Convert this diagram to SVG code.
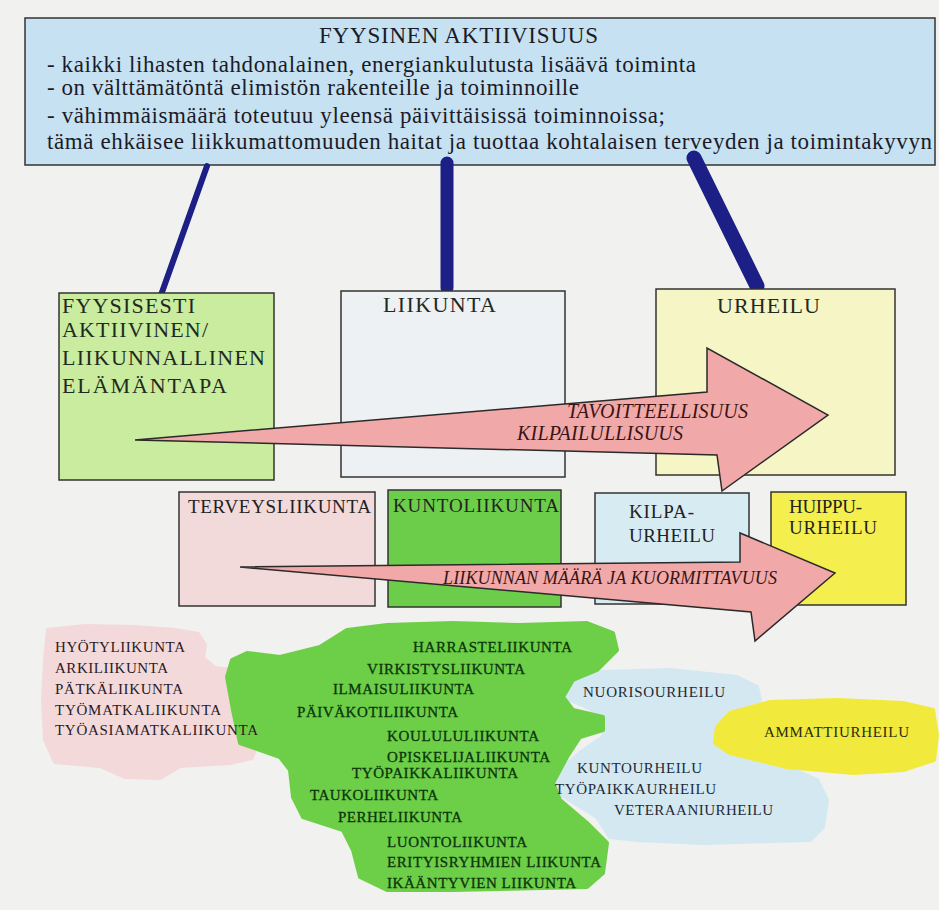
<svg xmlns="http://www.w3.org/2000/svg" width="939" height="910" viewBox="0 0 939 910">
  <style>
    .serif { font-family: "Liberation Serif", "Times New Roman", serif; }
    .box { stroke: #333333; stroke-width: 1.5; }
    .head { font-size: 23px; fill: #1b1b28; }
    .body { font-size: 23px; fill: #1b1b28; }
    .cap { font-size: 22px; fill: #1f2a1f; }
    .cap2 { font-size: 19px; fill: #222222; }
    .arrow { fill: #f0a9a8; stroke: #2a2a2a; stroke-width: 1.5; stroke-linejoin: miter; }
    .arrowtxt { font-size: 20px; font-style: italic; fill: #3a1414; }
    .arrowtxt2 { font-size: 18px; font-style: italic; fill: #3a1414; }
    .blobtxt { font-size: 15px; fill: #2a1a1e; }
    .greentxt { font-size: 15px; fill: #0b350b; stroke: #0b350b; stroke-width: 0.3; }
    .bluetxt { font-size: 15px; fill: #1c2a36; }
    .yellowtxt { font-size: 15px; fill: #2a2a10; }
    .link { stroke: #1c1f86; stroke-linecap: round; fill: none; }
  </style>

  <!-- paper -->
  <rect x="0" y="0" width="939" height="910" fill="#f1f1ef"/>

  <!-- overview box -->
  <g id="fyysinen-aktiivisuus" class="serif">
    <rect class="box" x="25" y="18" width="910" height="147" fill="#c6e1f2"/>
    <text class="head" x="319" y="43" textLength="279" lengthAdjust="spacing">FYYSINEN AKTIIVISUUS</text>
    <text class="body" x="47" y="72" textLength="649" lengthAdjust="spacing">- kaikki lihasten tahdonalainen, energiankulutusta lisäävä toiminta</text>
    <text class="body" x="47" y="95" textLength="532" lengthAdjust="spacing">- on välttämätöntä elimistön rakenteille ja toiminnoille</text>
    <text class="body" x="47" y="123" textLength="618" lengthAdjust="spacing">- vähimmäismäärä toteutuu yleensä päivittäisissä toiminnoissa;</text>
    <text class="body" x="47" y="149" textLength="885" lengthAdjust="spacing">tämä ehkäisee liikkumattomuuden haitat ja tuottaa kohtalaisen terveyden ja toimintakyvyn</text>
  </g>

  <!-- connectors from the overview box -->
  <g id="connectors">
    <line class="link" x1="207" y1="166" x2="161" y2="295" stroke-width="6"/>
    <line class="link" x1="447" y1="163" x2="447" y2="288" stroke-width="13"/>
    <line class="link" x1="694" y1="158" x2="757" y2="286" stroke-width="15"/>
  </g>

  <!-- background areas -->
  <g id="blob-arki">
    <polygon fill="#f3d9da" stroke="#f3d9da" stroke-width="4" stroke-linejoin="round"
      points="48,630 85,626 135,627 175,630 198,634 205,645 203,658 215,668 250,672 260,700 258,740 252,758 230,763 180,766 160,778 125,777 100,766 55,762 45,740 43,700 45,660"/>
  </g>
  <g id="blob-urheilu">
    <polygon fill="#d4e8f1" stroke="#d4e8f1" stroke-width="4" stroke-linejoin="round"
      points="560,687 567,677 603,672 670,670 737,677 757,687 760,700 730,710 717,727 717,747 737,757 787,767 817,780 827,800 823,827 810,840 703,843 637,840 610,837 597,817 570,800 553,790 557,773 580,753 603,737 607,720 587,707 563,697"/>
  </g>
  <g id="blob-ammatti">
    <polygon fill="#f1ea3c" stroke="#f1ea3c" stroke-width="4" stroke-linejoin="round"
      points="717,727 730,713 770,702 837,700 903,703 933,710 937,735 934,760 903,770 853,773 787,767 730,753 715,743"/>
  </g>
  <g id="blob-liikunta">
    <polygon fill="#6dcf48" stroke="#6dcf48" stroke-width="4" stroke-linejoin="round"
      points="247,653 280,657 320,647 347,630 387,625 453,623 520,625 587,623 613,633 617,650 597,670 573,680 563,697 573,710 603,717 603,730 580,737 567,757 553,783 560,800 587,823 607,843 603,873 587,887 453,890 387,890 360,877 353,850 343,830 303,817 293,797 290,770 280,757 240,743 233,710 227,677 232,660"/>
  </g>

  <!-- area labels -->
  <g id="labels-arki" class="serif blobtxt">
    <text x="55" y="652" textLength="130" lengthAdjust="spacing">HYÖTYLIIKUNTA</text>
    <text x="55" y="673" textLength="113" lengthAdjust="spacing">ARKILIIKUNTA</text>
    <text x="55" y="694" textLength="128" lengthAdjust="spacing">PÄTKÄLIIKUNTA</text>
    <text x="55" y="715" textLength="166" lengthAdjust="spacing">TYÖMATKALIIKUNTA</text>
    <text x="55" y="735" textLength="203" lengthAdjust="spacing">TYÖASIAMATKALIIKUNTA</text>
  </g>
  <g id="labels-liikunta" class="serif greentxt">
    <text x="413" y="652" textLength="159" lengthAdjust="spacing">HARRASTELIIKUNTA</text>
    <text x="367" y="674" textLength="158" lengthAdjust="spacing">VIRKISTYSLIIKUNTA</text>
    <text x="333" y="694" textLength="141" lengthAdjust="spacing">ILMAISULIIKUNTA</text>
    <text x="297" y="717" textLength="161" lengthAdjust="spacing">PÄIVÄKOTILIIKUNTA</text>
    <text x="387" y="741" textLength="152" lengthAdjust="spacing">KOULULULIIKUNTA</text>
    <text x="387" y="762" textLength="163" lengthAdjust="spacing">OPISKELIJALIIKUNTA</text>
    <text x="352" y="778" textLength="166" lengthAdjust="spacing">TYÖPAIKKALIIKUNTA</text>
    <text x="310" y="800" textLength="128" lengthAdjust="spacing">TAUKOLIIKUNTA</text>
    <text x="338" y="822" textLength="124" lengthAdjust="spacing">PERHELIIKUNTA</text>
    <text x="387" y="847" textLength="140" lengthAdjust="spacing">LUONTOLIIKUNTA</text>
    <text x="387" y="867" textLength="214" lengthAdjust="spacing">ERITYISRYHMIEN LIIKUNTA</text>
    <text x="387" y="888" textLength="189" lengthAdjust="spacing">IKÄÄNTYVIEN LIIKUNTA</text>
  </g>
  <g id="labels-urheilu" class="serif bluetxt">
    <text x="583" y="697" textLength="142" lengthAdjust="spacing">NUORISOURHEILU</text>
    <text x="577" y="773" textLength="125" lengthAdjust="spacing">KUNTOURHEILU</text>
    <text x="555" y="794" textLength="161" lengthAdjust="spacing">TYÖPAIKKAURHEILU</text>
    <text x="614" y="815" textLength="159" lengthAdjust="spacing">VETERAANIURHEILU</text>
  </g>
  <g id="labels-ammatti" class="serif yellowtxt">
    <text x="764" y="737" textLength="145" lengthAdjust="spacing">AMMATTIURHEILU</text>
  </g>

  <!-- upper row -->
  <g id="elamantapa" class="serif">
    <rect class="box" x="59" y="293" width="215" height="187" fill="#c9ec9e"/>
    <text class="cap" x="62" y="313" textLength="133" lengthAdjust="spacing">FYYSISESTI</text>
    <text class="cap" x="62" y="337" textLength="146" lengthAdjust="spacing">AKTIIVINEN/</text>
    <text class="cap" x="62" y="365" textLength="203" lengthAdjust="spacing">LIIKUNNALLINEN</text>
    <text class="cap" x="62" y="393" textLength="165" lengthAdjust="spacing">ELÄMÄNTAPA</text>
  </g>
  <g id="liikunta" class="serif">
    <rect class="box" x="341" y="291" width="224" height="186" fill="#eef1f4"/>
    <text class="cap" x="383" y="312" textLength="113" lengthAdjust="spacing" fill="#222">LIIKUNTA</text>
  </g>
  <g id="urheilu" class="serif">
    <rect class="box" x="656" y="289" width="239" height="186" fill="#f6f5c6"/>
    <text class="cap" x="717" y="313" textLength="103" lengthAdjust="spacing" fill="#2a2a1a">URHEILU</text>
  </g>

  <!-- lower row -->
  <g id="terveysliikunta" class="serif">
    <rect class="box" x="179" y="492" width="196" height="114" fill="#f2d9da"/>
    <text class="cap2" x="188" y="513" textLength="183" lengthAdjust="spacing" fill="#2a1a1e">TERVEYSLIIKUNTA</text>
  </g>
  <g id="kuntoliikunta" class="serif">
    <rect class="box" x="388" y="490" width="173" height="117" fill="#6ccd4a"/>
    <text class="cap2" x="393" y="512" textLength="166" lengthAdjust="spacing" fill="#0b300b">KUNTOLIIKUNTA</text>
  </g>
  <g id="kilpaurheilu" class="serif">
    <rect class="box" x="595" y="493" width="154" height="111" fill="#d6ebf2"/>
    <text class="cap2" x="629" y="518" textLength="65" lengthAdjust="spacing">KILPA-</text>
    <text class="cap2" x="629" y="542" textLength="86" lengthAdjust="spacing">URHEILU</text>
  </g>
  <g id="huippuurheilu" class="serif">
    <rect class="box" x="771" y="492" width="135" height="113" fill="#f4ef4e"/>
    <text class="cap2" x="789" y="513" textLength="73" lengthAdjust="spacing" fill="#2a2a10">HUIPPU-</text>
    <text class="cap2" x="789" y="534" textLength="88" lengthAdjust="spacing" fill="#2a2a10">URHEILU</text>
  </g>

  <!-- direction arrows -->
  <g id="arrow-tavoitteellisuus" class="serif">
    <polygon class="arrow" points="135,440 707,392 707,348 828,415 722,491 717,455"/>
    <text class="arrowtxt" x="567" y="418" textLength="181" lengthAdjust="spacing">TAVOITTEELLISUUS</text>
    <text class="arrowtxt" x="517" y="440" textLength="166" lengthAdjust="spacing">KILPAILULLISUUS</text>
  </g>
  <g id="arrow-kuormittavuus" class="serif">
    <polygon class="arrow" points="240,567 740,562 740,533 835,573 755,641 751,612"/>
    <text class="arrowtxt2" x="443" y="584" textLength="334" lengthAdjust="spacing">LIIKUNNAN MÄÄRÄ JA KUORMITTAVUUS</text>
  </g>
</svg>
